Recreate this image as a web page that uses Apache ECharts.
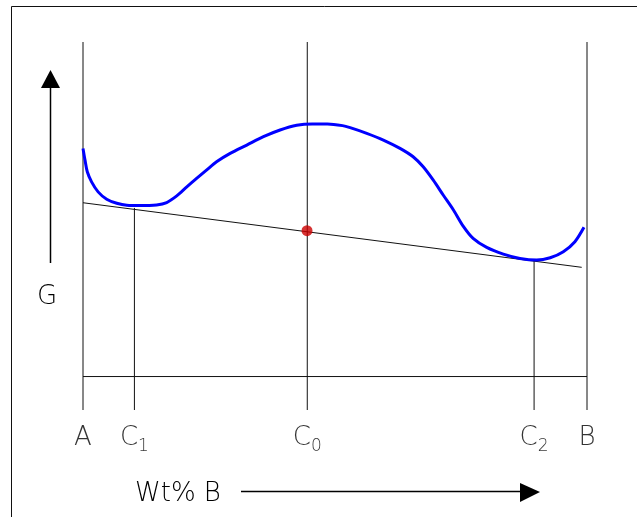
<!DOCTYPE html>
<html>
<head>
<meta charset="utf-8">
<script src="https://cdn.jsdelivr.net/npm/echarts@6/dist/echarts.min.js"></script>
<style>
html,body{margin:0;padding:0;background:#fff;}
#chart{width:637px;height:517px;}
</style>
</head>
<body>
<div id="chart"></div>
<script>
// Composition axis (Wt% B, A = 0, B = 100)
const compNames = ['A', 'C1', 'C0', 'C2', 'B'];
const compX = [0, 10.2, 44.5, 89.5, 100];
// heights of the vertical guide lines (G units)
const guideTop = [100, 50.4, 100, 34.8, 100];
const guideBottom = -10;

// Free-energy curve G(x)
const curveX = [0, 0.4, 0.85, 1.7, 3.0, 4.7, 6.7, 8.7, 11.3, 14.6, 16.6, 18.6, 20.6, 22.6, 24.5, 26.5, 29.2, 32.5, 35.8, 39.1, 42.4, 45.5, 48.5, 51.5, 53.0, 56.3, 59.6, 62.9, 65.5, 67.5, 69.5, 71.5, 73.5, 75.5, 77.4, 80.1, 83.4, 86.7, 90.0, 92.7, 95.3, 97.6, 99.4];
const curveG = [68.2, 64.7, 61.2, 58.2, 55.2, 53.0, 51.8, 51.2, 51.1, 51.3, 52.0, 54.0, 56.7, 59.3, 61.7, 64.2, 66.7, 69.2, 71.7, 73.7, 75.1, 75.5, 75.5, 75.0, 74.4, 72.7, 70.7, 68.2, 65.7, 62.7, 58.7, 54.2, 49.8, 44.8, 41.3, 38.6, 36.6, 35.3, 34.8, 35.5, 37.3, 40.3, 44.6];

// Common tangent line
const tangentX = [0, 98.95];
const tangentG = [51.95, 32.65];

// Alloy point C0
const alloyPoint = [44.45, 43.6];

const FONT = '"DejaVu Sans", "Liberation Sans", Arial, sans-serif';

const series = [];
// baseline
series.push({
  type: 'line', data: [[compX[0], 0], [compX[4], 0]], symbol: 'none', clip: false,
  lineStyle: {color: '#111', width: 1}, silent: true, z: 2
});
// vertical guides
compX.forEach((x, i) => {
  series.push({
    type: 'line', data: [[x, guideBottom], [x, guideTop[i]]], symbol: 'none', clip: false,
    lineStyle: {color: '#111', width: 1}, silent: true, z: 2
  });
});
// tangent
series.push({
  type: 'line', data: tangentX.map((x, i) => [x, tangentG[i]]), symbol: 'none', clip: false,
  lineStyle: {color: '#111', width: 1}, silent: true, z: 3
});
// curve
series.push({
  type: 'line', data: curveX.map((x, i) => [x, curveG[i]]), symbol: 'none', clip: false,
  smooth: 0.3, lineStyle: {color: '#0000ff', width: 3}, silent: true, z: 4
});
// alloy point
series.push({
  type: 'scatter', data: [alloyPoint], symbol: 'circle', symbolSize: 11,
  itemStyle: {color: '#cc0000'}, silent: true, z: 5
});
// composition labels
series.push({
  type: 'scatter', symbolSize: 0, silent: true, z: 5,
  data: compX.map((x, i) => ({value: [x, guideBottom], name: compNames[i]})),
  label: {
    show: true, position: 'bottom', distance: 14, color: '#000',
    formatter: p => {
      const n = p.name;
      return n.length > 1 ? '{c|' + n[0] + '}{s|' + n.slice(1) + '}' : '{c|' + n + '}';
    },
    rich: {
      c: {fontSize: 26, fontWeight: 200, fontFamily: FONT, color: '#000', lineHeight: 28},
      s: {fontSize: 17, fontWeight: 200, fontFamily: FONT, color: '#000', verticalAlign: 'bottom', lineHeight: 28, padding: [0, 0, -3, 0]}
    }
  }
});

const chart = echarts.init(document.getElementById('chart'), null, {renderer: 'canvas'});
chart.setOption({
  animation: false,
  backgroundColor: '#fff',
  grid: {left: 83, right: 50, top: 42, bottom: 107},
  xAxis: {type: 'value', min: 0, max: 100, show: false},
  yAxis: {type: 'value', min: -10, max: 100, show: false},
  series: series,
  graphic: [
    // frame (top & left)
    {type: 'line', shape: {x1: 11.5, y1: 6.5, x2: 637, y2: 6.5}, style: {stroke: '#111', lineWidth: 1}},
    {type: 'line', shape: {x1: 11.5, y1: 6.5, x2: 11.5, y2: 517}, style: {stroke: '#111', lineWidth: 1}},
    // G arrow
    {type: 'line', shape: {x1: 50.5, y1: 86, x2: 50.5, y2: 263}, style: {stroke: '#000', lineWidth: 1.5}},
    {type: 'polygon', shape: {points: [[50.5, 70], [41, 88], [60, 88]]}, style: {fill: '#000'}},
    {type: 'text', x: 47, y: 297, style: {text: 'G', font: '200 26px ' + FONT, fill: '#000', align: 'center', verticalAlign: 'middle'}},
    // Wt% B arrow
    {type: 'text', x: 135, y: 494, style: {text: 'Wt% B', font: '200 26px ' + FONT, fill: '#000', align: 'left', verticalAlign: 'middle'}},
    {type: 'line', shape: {x1: 241, y1: 491.5, x2: 522, y2: 491.5}, style: {stroke: '#000', lineWidth: 1.5}},
    {type: 'polygon', shape: {points: [[540, 492], [520, 483], [520, 502]]}, style: {fill: '#000'}}
  ]
});
</script>
</body>
</html>
